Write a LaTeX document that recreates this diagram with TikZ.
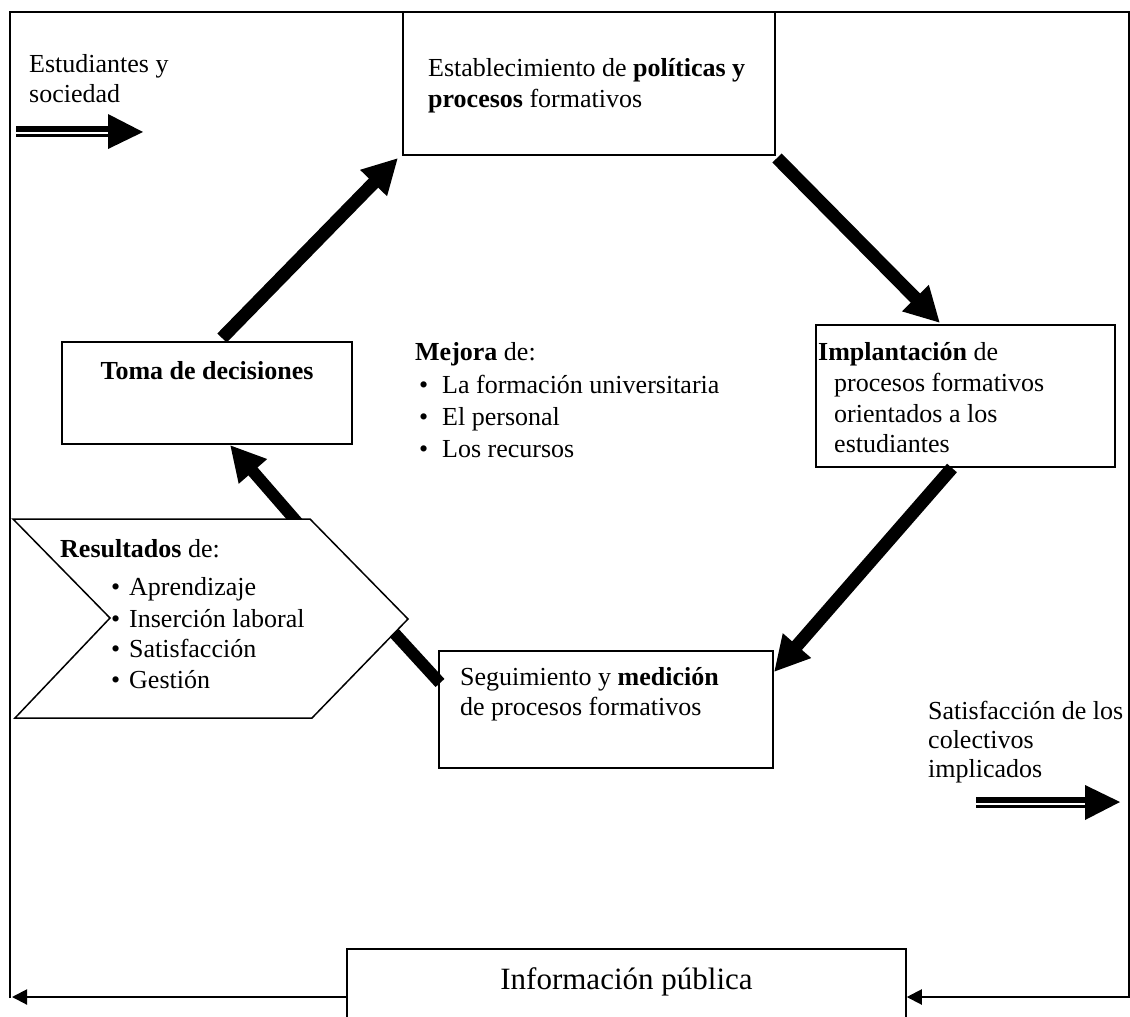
\documentclass[tikz,border=0pt]{standalone}
\usepackage{fontspec}
\setmainfont{Liberation Serif}
\usetikzlibrary{arrows.meta}
\begin{document}
\begin{tikzpicture}[x=1pt,y=-1pt,
  box/.style={draw, line width=1.5pt, inner sep=0pt, fill=white},
  txt/.style={anchor=base west, inner sep=0pt, font=\fontsize{26}{30}\selectfont},
  bul/.style={anchor=base west, inner sep=0pt, font=\fontsize{26}{30}\selectfont},
  bigarrow/.style={line width=13pt, -{Triangle[length=35pt,width=35pt]}},
  thinarrow/.style={line width=2pt, -{Triangle[length=15pt,width=15pt]}},
  frame/.style={line width=1.6pt}
]
\useasboundingbox (0,0) rectangle (1130,1017);
\clip (0,0) rectangle (1130,1017);

% outer frame
\coordinate (ftl) at (10,12);
\coordinate (ftr) at (1129,12);
\coordinate (fbl) at (10,998);
\coordinate (fbr) at (1129,998);
\draw[frame] (fbl) -- (ftl) -- (ftr) -- (fbr);

% boxes
\node[box, minimum width=372pt, minimum height=143pt] (top) at (589,83.5) {};
\node[box, minimum width=290pt, minimum height=102pt] (toma) at (207,393) {};
\node[box, minimum width=299pt, minimum height=142pt] (impl) at (965.5,396) {};
\node[box, minimum width=334pt, minimum height=117pt] (seg) at (606,709.5) {};
\node[box, minimum width=559pt, minimum height=91pt] (info) at (626.5,994.5) {};

% big arrows
\coordinate (a1s) at (222,338);  \coordinate (a1e) at (398,158);
\coordinate (a2s) at (777,158);  \coordinate (a2e) at (940,323);
\coordinate (a3s) at (952,468);  \coordinate (a3e) at (774,672);
\coordinate (a4s) at (303,529);  \coordinate (a4e) at (230,445);
\coordinate (a5s) at (440,683);  \coordinate (a5e) at (375,612);
\draw[bigarrow] (a1s) -- (a1e);
\draw[bigarrow] (a2s) -- (a2e);
\draw[bigarrow] (a3s) -- (a3e);
\draw[bigarrow, line width=12pt] (a4s) -- (a4e);
\draw[line width=12pt] (a5s) -- (a5e);

% chevron
\filldraw[fill=white, line width=1.5pt] (13,519) -- (310,519) -- (408,619) -- (312,718) -- (15,718) -- (110,618) -- cycle;

% bottom arrows
\coordinate (bl) at (12,997);
\coordinate (br) at (1129,997);
\draw[thinarrow] (info.west |- bl) -- (bl);
\draw[thinarrow] (br) -- (info.east |- br);

% double arrows
\fill (16,125.5) rectangle (108,131.5);
\fill (16,133.5) rectangle (108,136.5);
\fill (108,114) -- (143,132) -- (108,149) -- cycle;
\fill (976,796.5) rectangle (1085,802.5);
\fill (976,804.5) rectangle (1085,807.5);
\fill (1085,785) -- (1120,802) -- (1085,820) -- cycle;

% texts
\node[txt] (t1) at (29,72) {Estudiantes y};
\node[txt] (t2) at (29,102) {sociedad};

\node[txt] (p1) at (428,76) {Establecimiento de \textbf{políticas y}};
\node[txt] (p2) at (428,107) {\textbf{procesos} formativos};

\node[txt, anchor=base] (d1) at (207,379) {\textbf{Toma de decisiones}};

\node[txt] (m0) at (415,360) {\textbf{Mejora} de:};
\node[bul] (mb1) at (419,393) {•};
\node[txt] (m1) at (442,393) {La formación universitaria};
\node[bul] (mb2) at (419,425) {•};
\node[txt] (m2) at (442,425) {El personal};
\node[bul] (mb3) at (419,457) {•};
\node[txt] (m3) at (442,457) {Los recursos};

\node[txt] (i1) at (818,360) {\textbf{Implantación} de};
\node[txt] (i2) at (834,391) {procesos formativos};
\node[txt] (i3) at (834,422) {orientados a los};
\node[txt] (i4) at (834,452) {estudiantes};

\node[txt] (r0) at (60,557) {\textbf{Resultados} de:};
\node[bul] (rb1) at (111,595) {•};
\node[txt] (r1) at (129,595) {Aprendizaje};
\node[bul] (rb2) at (111,627) {•};
\node[txt] (r2) at (129,627) {Inserción laboral};
\node[bul] (rb3) at (111,657) {•};
\node[txt] (r3) at (129,657) {Satisfacción};
\node[bul] (rb4) at (111,688) {•};
\node[txt] (r4) at (129,688) {Gestión};

\node[txt] (s1) at (460,685) {Seguimiento y \textbf{medición}};
\node[txt] (s2) at (460,715) {de procesos formativos};

\node[txt] (c1) at (928,719) {Satisfacción de los};
\node[txt] (c2) at (928,748) {colectivos};
\node[txt] (c3) at (928,777) {implicados};

\node[txt, anchor=base, font=\fontsize{31}{36}\selectfont] (ip) at (626.5,989) {Información pública};
\end{tikzpicture}
\end{document}
